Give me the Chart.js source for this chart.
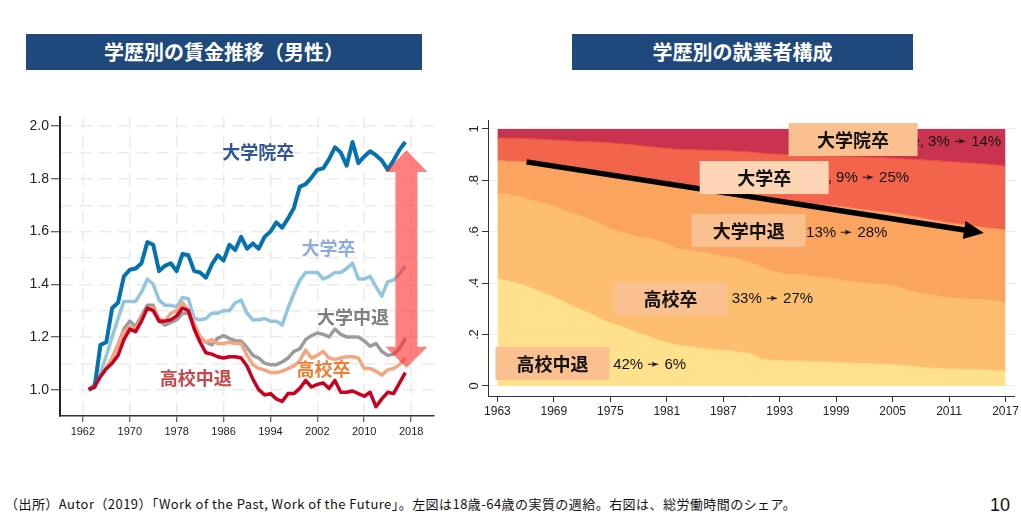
<!DOCTYPE html>
<html>
<head>
<meta charset="utf-8">
<script src="https://cdn.jsdelivr.net/npm/chart.js@4.4.0/dist/chart.umd.min.js"></script>
<style>
  body { margin:0; background:#fff; width:1021px; height:515px; overflow:hidden; position:relative; font-family:"Noto Sans CJK JP", sans-serif; }
  .title { position:absolute; top:34px; height:36px; background:#1F497D; color:#fff; font-weight:bold; font-size:20px; line-height:36px; text-align:center; }
  #wrapL { position:absolute; left:0; top:105px; }
  #wrapR { position:absolute; left:460px; top:100px; }
  .note { position:absolute; left:5px; top:494px; font-size:13px; letter-spacing:0.45px; color:#111; white-space:nowrap; }
  .page { position:absolute; left:990px; top:495px; font-size:18px; font-family:"Liberation Sans", sans-serif; color:#111; }
</style>
</head>
<body>
<div class="title" style="left:26px;width:396px;">学歴別の賃金推移（男性）</div>
<div class="title" style="left:572px;width:341px;">学歴別の就業者構成</div>
<div id="wrapL"><canvas id="wage" width="445" height="345"></canvas></div>
<div id="wrapR"><canvas id="share" width="561" height="325"></canvas></div>
<div class="note">（出所）Autor（2019）「Work of the Past, Work of the Future」。左図は18歳-64歳の実質の週給。右図は、総労働時間のシェア。</div>
<div class="page">10</div>

<script>
// years shared by both panels
const years = [1963,1964,1965,1966,1967,1968,1969,1970,1971,1972,1973,1974,1975,1976,1977,1978,1979,1980,
  1981,1982,1983,1984,1985,1986,1987,1988,1989,1990,1991,1992,1993,1994,1995,1996,1997,1998,1999,2000,
  2001,2002,2003,2004,2005,2006,2007,2008,2009,2010,2011,2012,2013,2014,2015,2016,2017];

// left: real weekly wage index (1963 = 1)
const wageGrad = [1.00,1.01,1.17,1.18,1.31,1.33,1.43,1.455,1.46,1.48,1.56,1.55,1.45,1.47,1.48,1.45,1.515,1.51,
  1.45,1.445,1.425,1.475,1.51,1.49,1.55,1.53,1.58,1.535,1.555,1.535,1.58,1.60,1.635,1.615,1.65,1.69,1.77,1.78,
  1.805,1.835,1.84,1.875,1.92,1.90,1.85,1.94,1.86,1.885,1.905,1.89,1.87,1.835,1.87,1.91,1.94];
const wageCollege = [1.00,1.02,1.06,1.13,1.20,1.27,1.335,1.335,1.335,1.37,1.42,1.40,1.34,1.32,1.32,1.315,1.35,1.345,
  1.27,1.265,1.27,1.29,1.29,1.30,1.30,1.33,1.34,1.29,1.265,1.265,1.27,1.26,1.26,1.245,1.31,1.365,1.415,1.445,
  1.445,1.445,1.42,1.43,1.445,1.445,1.46,1.48,1.42,1.42,1.43,1.39,1.355,1.41,1.415,1.44,1.47];
const wageSomeCollege = [1.00,1.02,1.05,1.08,1.12,1.17,1.23,1.26,1.24,1.28,1.32,1.32,1.26,1.245,1.255,1.265,1.29,1.29,
  1.24,1.20,1.18,1.17,1.195,1.205,1.195,1.185,1.185,1.16,1.13,1.12,1.10,1.095,1.095,1.105,1.12,1.145,1.155,1.19,
  1.205,1.215,1.21,1.20,1.23,1.21,1.20,1.20,1.20,1.185,1.165,1.175,1.145,1.13,1.135,1.155,1.195];
const wageHsGrad = [1.00,1.02,1.05,1.08,1.12,1.17,1.22,1.24,1.23,1.27,1.31,1.31,1.27,1.26,1.29,1.30,1.33,1.30,
  1.25,1.20,1.18,1.19,1.175,1.175,1.18,1.175,1.175,1.13,1.095,1.08,1.075,1.065,1.065,1.07,1.08,1.09,1.11,1.15,
  1.12,1.13,1.145,1.12,1.115,1.12,1.125,1.125,1.12,1.08,1.08,1.07,1.055,1.075,1.08,1.095,1.12];
const wageHsDropout = [1.00,1.01,1.05,1.08,1.10,1.13,1.19,1.23,1.22,1.26,1.31,1.30,1.26,1.26,1.265,1.28,1.31,1.30,
  1.23,1.18,1.14,1.135,1.125,1.12,1.125,1.125,1.12,1.09,1.04,1.00,0.98,0.985,0.965,0.955,0.985,0.985,1.005,1.035,
  1.01,1.02,1.025,1.005,1.035,0.99,0.99,0.995,0.985,0.975,0.99,0.935,0.965,0.99,0.985,1.025,1.065];
const wageXTicks = [1962,1970,1978,1986,1994,2002,2010,2018];
const wageYTicks = [1.0,1.1,1.2,1.3,1.4,1.5,1.6,1.7,1.8,1.9,2.0];

// right: cumulative share of hours (bottom group upward)
const cumHsDropout = [.418,.41,.40,.39,.375,.36,.345,.33,.31,.295,.28,.26,.245,.235,.22,.205,.195,.18,
  .17,.16,.155,.15,.145,.14,.14,.135,.13,.125,.105,.10,.098,.097,.097,.096,.095,.093,.09,.09,
  .088,.087,.086,.085,.083,.08,.077,.073,.07,.068,.066,.065,.064,.063,.062,.06,.057];
const cumHsGrad = [.75,.745,.74,.73,.72,.71,.70,.685,.67,.66,.645,.63,.61,.60,.59,.58,.575,.565,
  .555,.535,.53,.525,.52,.51,.505,.50,.49,.48,.465,.45,.44,.435,.435,.43,.425,.42,.415,.41,
  .405,.40,.398,.395,.39,.38,.37,.362,.355,.35,.345,.34,.338,.338,.335,.33,.325];
const cumSomeCollege = [.877,.875,.873,.872,.87,.865,.858,.853,.848,.843,.838,.833,.828,.823,.818,.812,.806,.80,
  .795,.788,.782,.776,.769,.763,.757,.75,.744,.737,.731,.725,.718,.715,.712,.709,.706,.703,.70,.695,
  .69,.685,.681,.677,.673,.667,.66,.654,.647,.641,.634,.63,.625,.62,.615,.611,.607];
const cumCollege = [.965,.965,.964,.963,.961,.959,.957,.955,.953,.951,.95,.948,.946,.943,.94,.936,.932,.928,
  .925,.921,.92,.919,.918,.917,.916,.914,.912,.91,.906,.903,.902,.90,.899,.898,.897,.896,.895,.893,
  .892,.89,.889,.888,.886,.884,.882,.88,.878,.876,.873,.871,.868,.866,.863,.86,.857];
const shareXTicks = [1963,1969,1975,1981,1987,1993,1999,2005,2011,2017];
const shareYTicks = [0,0.2,0.4,0.6,0.8,1];
const shareYLabels = ['0','.2','.4','.6','.8','1'];

const pts = arr => years.map((y, i) => ({x: y, y: arr[i]}));
const JP = '"Noto Sans CJK JP", sans-serif';
const LAT = '"Liberation Sans", Arial, sans-serif';

// ---------- left panel ----------
const wageLabels = [
  {t:'大学院卒', x:1991.9, y:1.90, c:'#2F5597'},
  {t:'大学卒',   x:2003.9, y:1.538, c:'#8FAADC'},
  {t:'大学中退', x:2008.1, y:1.277, c:'#7F7F7F'},
  {t:'高校卒',   x:2003.05, y:1.076, c:'#ED7D31'},
  {t:'高校中退', x:1981.25, y:1.045, c:'#C9474A'}
];

const wageDecor = {
  id:'wageDecor',
  afterDatasetsDraw(chart){
    const {ctx, scales:{x, y}} = chart;
    // double arrow
    const cx = x.getPixelForValue(2017.2);
    const tTop = y.getPixelForValue(1.909), bTop = y.getPixelForValue(1.826);
    const bBot = y.getPixelForValue(1.163), tBot = y.getPixelForValue(1.083);
    const sw = 11, hw = 21;
    ctx.save();
    ctx.fillStyle = 'rgba(255,40,40,0.6)';
    ctx.beginPath();
    ctx.moveTo(cx, tTop);
    ctx.lineTo(cx + hw, bTop); ctx.lineTo(cx + sw, bTop);
    ctx.lineTo(cx + sw, bBot); ctx.lineTo(cx + hw, bBot);
    ctx.lineTo(cx, tBot);
    ctx.lineTo(cx - hw, bBot); ctx.lineTo(cx - sw, bBot);
    ctx.lineTo(cx - sw, bTop); ctx.lineTo(cx - hw, bTop);
    ctx.closePath();
    ctx.fill();
    // line labels
    ctx.font = 'bold 18px ' + JP;
    ctx.textAlign = 'center';
    ctx.textBaseline = 'middle';
    wageLabels.forEach(l => {
      ctx.fillStyle = l.c;
      ctx.fillText(l.t, x.getPixelForValue(l.x), y.getPixelForValue(l.y));
    });
    ctx.restore();
  }
};

function wageLine(label, arr, color, width, order){
  return {label, data: pts(arr), borderColor: color, borderWidth: width, pointRadius: 0,
    tension: 0, fill: false, borderJoinStyle: 'round', order};
}

new Chart(document.getElementById('wage'), {
  type: 'line',
  data: {datasets: [
    wageLine('高校中退', wageHsDropout, '#CA0020', 3.5, 1),
    wageLine('大学院卒', wageGrad, '#0571B0', 4, 2),
    wageLine('高校卒', wageHsGrad, '#F4A582', 3.5, 3),
    wageLine('大学中退', wageSomeCollege, '#9C9C9C', 3.5, 4),
    wageLine('大学卒', wageCollege, '#92C5DE', 3.5, 5)
  ]},
  options: {
    responsive: false, animation: false,
    layout: {padding: {top: 12, right: 11, left: 0, bottom: 0}},
    plugins: {legend: {display: false}, tooltip: {enabled: false}},
    scales: {
      x: {
        type: 'linear', min: 1958.1, max: 2021.9,
        afterBuildTicks: s => { s.ticks = wageXTicks.map(v => ({value: v})); },
        afterFit: s => { s.height = 34; },
        ticks: {autoSkip: false, maxRotation: 0, padding: 3, color: '#222',
          font: {family: LAT, size: 11}, callback: v => String(v)},
        grid: {color: '#EBEBEB', lineWidth: 1.5, tickColor: '#333', tickLength: 6, tickWidth: 1},
        border: {color: '#333', width: 1.5, dash: [12, 7]}
      },
      y: {
        min: 0.9, max: 2.035,
        afterBuildTicks: s => { s.ticks = wageYTicks.map(v => ({value: v})); },
        afterFit: s => { s.width = 60; },
        ticks: {padding: 2, color: '#222', font: {family: LAT, size: 14},
          callback: v => (Math.round(v * 10) % 2 === 0 ? v.toFixed(1) : '')},
        grid: {color: '#EBEBEB', lineWidth: 1.5, tickLength: 9, tickWidth: 1,
          tickColor: c => (Math.round(c.tick.value * 10) % 2 === 0 ? '#333' : 'rgba(0,0,0,0)')},
        border: {color: '#222', width: 2, dash: [12, 7]}
      }
    }
  },
  plugins: [wageDecor]
});

// ---------- right panel ----------
const shareNotes = [
  {t:'大学院卒', bx:2000.8, by:0.959, bw:129, bg:'#FAC090', s:'e, 3% ➛ 14%', sx:2007.0, sy:0.949},
  {t:'大学卒',   bx:1991.35, by:0.811, bw:129, bg:'#FCD5B4', s:', 9% ➛ 25%', sx:1998.1, sy:0.809},
  {t:'大学中退', bx:1989.7, by:0.605, bw:114, bg:'#FAC090', s:'13% ➛ 28%', sx:1995.8, sy:0.595},
  {t:'高校卒',   bx:1981.4, by:0.340, bw:114, bg:'#FAC090', s:'33% ➛ 27%', sx:1987.9, sy:0.339},
  {t:'高校中退', bx:1968.85, by:0.0875, bw:114, bg:'#FAC090', s:'42% ➛ 6%', sx:1975.3, sy:0.082}
];

const shareDecor = {
  id:'shareDecor',
  afterDatasetsDraw(chart){
    const {ctx, scales:{x, y}} = chart;
    ctx.save();
    // trend arrow
    const x1 = x.getPixelForValue(1966.1), y1 = y.getPixelForValue(0.872);
    const x2 = x.getPixelForValue(2014.7), y2 = y.getPixelForValue(0.595);
    const ang = Math.atan2(y2 - y1, x2 - x1), hl = 20, hh = 9;
    const bxp = x2 - hl * Math.cos(ang), byp = y2 - hl * Math.sin(ang);
    ctx.strokeStyle = '#000'; ctx.lineWidth = 5.5; ctx.lineCap = 'butt';
    ctx.beginPath(); ctx.moveTo(x1, y1); ctx.lineTo(bxp + 2 * Math.cos(ang), byp + 2 * Math.sin(ang)); ctx.stroke();
    ctx.fillStyle = '#000';
    ctx.beginPath();
    ctx.moveTo(x2, y2);
    ctx.lineTo(bxp - hh * Math.sin(ang), byp + hh * Math.cos(ang));
    ctx.lineTo(bxp + hh * Math.sin(ang), byp - hh * Math.cos(ang));
    ctx.closePath(); ctx.fill();
    // share texts, then boxes over them
    ctx.textBaseline = 'middle';
    shareNotes.forEach(n => {
      ctx.font = '15px ' + LAT; ctx.fillStyle = '#111'; ctx.textAlign = 'left';
      ctx.fillText(n.s, x.getPixelForValue(n.sx), y.getPixelForValue(n.sy));
    });
    shareNotes.forEach(n => {
      const cx = x.getPixelForValue(n.bx), cy = y.getPixelForValue(n.by);
      ctx.fillStyle = n.bg;
      ctx.fillRect(cx - n.bw / 2, cy - 16.5, n.bw, 33);
      ctx.font = 'bold 18px ' + JP; ctx.fillStyle = '#111'; ctx.textAlign = 'center';
      ctx.fillText(n.t, cx, cy + 1);
    });
    ctx.restore();
  },
  afterDraw(chart){
    const {ctx, chartArea, scales:{y}} = chart;
    ctx.save();
    ctx.font = '13px ' + LAT; ctx.fillStyle = '#222';
    ctx.textAlign = 'center'; ctx.textBaseline = 'middle';
    shareYTicks.forEach((v, i) => {
      ctx.save();
      ctx.translate(chartArea.left - 14, y.getPixelForValue(v));
      ctx.rotate(-Math.PI / 2);
      ctx.fillText(shareYLabels[i], 0, 0);
      ctx.restore();
    });
    ctx.restore();
  }
};

function shareArea(label, arr, fill, bg, border){
  return {label, data: pts(arr), fill, backgroundColor: bg, borderColor: border, borderWidth: 1,
    pointRadius: 0, tension: 0};
}

new Chart(document.getElementById('share'), {
  type: 'line',
  data: {datasets: [
    shareArea('高校中退', cumHsDropout, 'origin', '#FEE08D', '#FDD880'),
    shareArea('高校卒', cumHsGrad, '-1', '#FDBF6F', '#FCB567'),
    shareArea('大学中退', cumSomeCollege, '-1', '#FBA45F', '#F7925A'),
    shareArea('大学卒', cumCollege, '-1', '#F2654C', '#EE4636'),
    shareArea('大学院卒', cumCollege, {value: 1}, '#C9334F', 'rgba(0,0,0,0)')
  ]},
  options: {
    responsive: false, animation: false,
    layout: {padding: {top: 20, right: 6, left: 0, bottom: 0}},
    plugins: {legend: {display: false}, tooltip: {enabled: false}},
    scales: {
      x: {
        type: 'linear', min: 1962, max: 2018,
        afterBuildTicks: s => { s.ticks = shareXTicks.map(v => ({value: v})); },
        afterFit: s => { s.height = 29; },
        ticks: {autoSkip: false, maxRotation: 0, padding: 2, color: '#222',
          font: {family: LAT, size: 12}, callback: v => String(v)},
        grid: {drawOnChartArea: false, tickColor: '#333', tickLength: 6},
        border: {color: '#333', width: 1}
      },
      y: {
        min: -0.039, max: 1.035,
        afterBuildTicks: s => { s.ticks = shareYTicks.map(v => ({value: v})); },
        afterFit: s => { s.width = 28; },
        ticks: {display: false},
        grid: {color: '#E6EEF2', lineWidth: 1, tickColor: '#333', tickLength: 6},
        border: {color: '#333', width: 1}
      }
    }
  },
  plugins: [shareDecor]
});
</script>
</body>
</html>
